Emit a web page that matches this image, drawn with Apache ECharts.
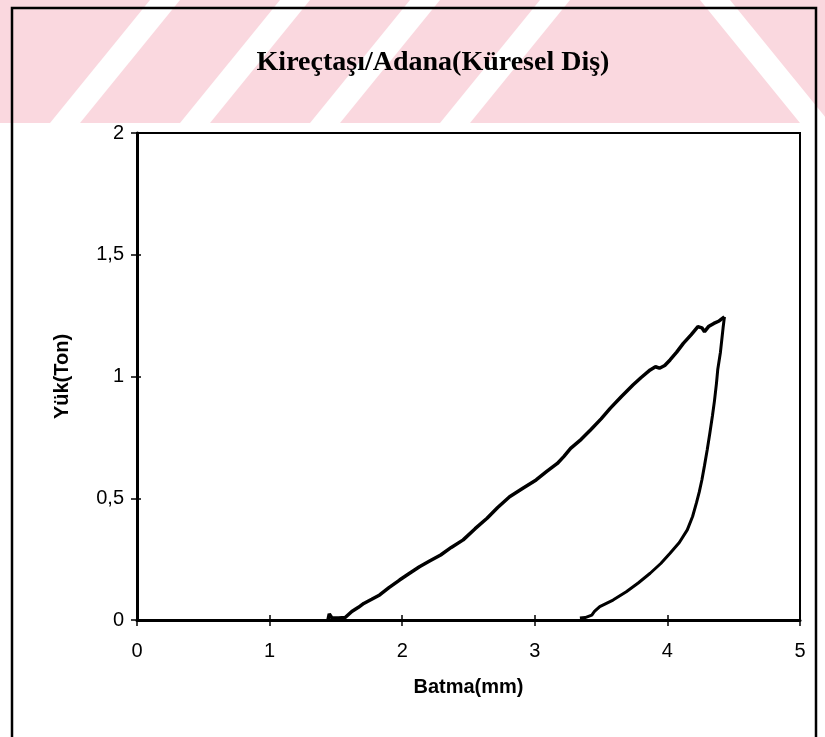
<!DOCTYPE html>
<html>
<head>
<meta charset="utf-8">
<script src="https://cdn.jsdelivr.net/npm/echarts@6/dist/echarts.min.js"></script>
<style>
html,body{margin:0;padding:0;background:#fff;}
#chart{width:825px;height:737px;}
</style>
</head>
<body>
<div id="chart"></div>
<script>
// ---- data ----
var titleText = 'Kireçtaşı/Adana(Küresel Diş)';
var xAxisName = 'Batma(mm)';
var yAxisName = 'Yük(Ton)';
var xTicks = [0, 1, 2, 3, 4, 5];
var yTicks = [0, 0.5, 1, 1.5, 2];

// loading branch (Batma mm, Yük ton)
var loadX = [1.44, 1.45, 1.47, 1.52, 1.57, 1.62, 1.67, 1.71, 1.77, 1.83, 1.90, 1.98, 2.05, 2.13, 2.21, 2.29, 2.37, 2.46, 2.55, 2.64, 2.72, 2.81, 2.91, 3.01, 3.09, 3.17, 3.22, 3.27, 3.35, 3.42, 3.50, 3.57, 3.65, 3.74, 3.80, 3.87, 3.91, 3.94, 3.98, 4.02, 4.07, 4.12, 4.18, 4.23, 4.26, 4.28, 4.31, 4.35, 4.39, 4.43];
var loadY = [0.00, 0.025, 0.008, 0.008, 0.010, 0.035, 0.052, 0.068, 0.085, 0.103, 0.133, 0.164, 0.190, 0.219, 0.243, 0.267, 0.298, 0.329, 0.375, 0.418, 0.462, 0.506, 0.541, 0.575, 0.610, 0.643, 0.672, 0.705, 0.742, 0.780, 0.826, 0.870, 0.916, 0.965, 0.995, 1.027, 1.040, 1.034, 1.045, 1.068, 1.100, 1.136, 1.172, 1.205, 1.200, 1.184, 1.205, 1.218, 1.228, 1.245];

// unloading branch
var unloadX = [4.43, 4.42, 4.41, 4.40, 4.38, 4.37, 4.355, 4.34, 4.32, 4.30, 4.28, 4.26, 4.24, 4.22, 4.19, 4.15, 4.09, 4.02, 3.95, 3.87, 3.78, 3.69, 3.59, 3.49, 3.45, 3.43, 3.38, 3.34];
var unloadY = [1.245, 1.200, 1.150, 1.100, 1.030, 0.972, 0.900, 0.840, 0.767, 0.698, 0.635, 0.575, 0.525, 0.483, 0.425, 0.370, 0.318, 0.274, 0.232, 0.192, 0.152, 0.116, 0.082, 0.055, 0.035, 0.020, 0.010, 0.008];

function pairs(xs, ys) { return xs.map(function (x, i) { return [x, ys[i]]; }); }

// ---- watermark (decorative) ----
var pink = '#fad8df';
var wm = [{ type: 'rect', z: -10, silent: true, shape: { x: 0, y: 0, width: 825, height: 123 }, style: { fill: pink } }];
var slashTops = [150, 280, 410, 540];
slashTops.forEach(function (t) {
  wm.push({ type: 'polygon', z: -9, silent: true,
    shape: { points: [[t, 0], [t + 30, 0], [t + 30 - 100, 123], [t - 100, 123]] },
    style: { fill: '#ffffff' } });
});
var backTops = [700, 830];
backTops.forEach(function (t) {
  wm.push({ type: 'polygon', z: -9, silent: true,
    shape: { points: [[t, 0], [t + 30, 0], [t + 30 + 100, 123], [t + 100, 123]] },
    style: { fill: '#ffffff' } });
});
// frame
wm.push({ type: 'rect', z: 5, silent: true, shape: { x: 12, y: 8, width: 804, height: 760 }, style: { fill: 'none', stroke: '#000', lineWidth: 2.5 } });
wm.push({ type: 'rect', z: -9, silent: true, shape: { x: 13, y: 123, width: 802, height: 620 }, style: { fill: '#fff' } });

var chart = echarts.init(document.getElementById('chart'));
var fontSans = '"Liberation Sans", Arial, sans-serif';

var option = {
  animation: false,
  backgroundColor: '#ffffff',
  graphic: wm,
  title: {
    text: titleText,
    left: 428, top: 44, textAlign: 'center',
    textStyle: { fontFamily: '"Liberation Serif", "Times New Roman", serif', fontWeight: 'bold', fontSize: 28, color: '#000' }
  },
  grid: { left: 137, top: 133, right: 25, bottom: 117, show: true, backgroundColor: '#fff', borderColor: '#000', borderWidth: 2 },
  xAxis: [{
    type: 'value', min: 0, max: 5, interval: 1,
    name: xAxisName, nameLocation: 'middle', nameGap: 57,
    nameTextStyle: { fontFamily: fontSans, fontWeight: 'bold', fontSize: 20, color: '#000' },
    axisLine: { show: true, lineStyle: { color: '#000', width: 3 } },
    axisTick: { show: true, length: 6, lineStyle: { color: '#000', width: 1.5 } },
    axisLabel: { margin: 21, fontFamily: fontSans, fontSize: 20, color: '#000',
      formatter: function (v) { return xTicks.indexOf(v) >= 0 ? String(v) : ''; } },
    splitLine: { show: false }
  }, {
    type: 'value', min: 0, max: 5, interval: 1, position: 'bottom',
    axisLine: { show: false }, axisLabel: { show: false }, splitLine: { show: false },
    axisTick: { show: true, inside: true, length: 5, lineStyle: { color: '#000', width: 1.5 } }
  }],
  yAxis: [{
    type: 'value', min: 0, max: 2, interval: 0.5,
    name: yAxisName, nameLocation: 'middle', nameGap: 65,
    nameTextStyle: { fontFamily: fontSans, fontWeight: 'bold', fontSize: 20, color: '#000' },
    axisLine: { show: true, lineStyle: { color: '#000', width: 3 } },
    axisTick: { show: true, length: 6, lineStyle: { color: '#000', width: 1.5 } },
    axisLabel: { margin: 13, fontFamily: fontSans, fontSize: 20, color: '#000',
      formatter: function (v) { return yTicks.indexOf(v) >= 0 ? String(v).replace('.', ',') : ''; } },
    splitLine: { show: false }
  }, {
    type: 'value', min: 0, max: 2, interval: 0.5, position: 'left',
    axisLine: { show: false }, axisLabel: { show: false }, splitLine: { show: false },
    axisTick: { show: true, inside: true, length: 4, lineStyle: { color: '#000', width: 1.5 } }
  }],
  series: [{
    type: 'line', name: 'Yükleme', xAxisIndex: 0, yAxisIndex: 0,
    data: pairs(loadX, loadY), showSymbol: false, smooth: false,
    lineStyle: { color: '#000', width: 3.5 }, z: 3
  }, {
    type: 'line', name: 'Boşaltma', xAxisIndex: 0, yAxisIndex: 0,
    data: pairs(unloadX, unloadY), showSymbol: false, smooth: false,
    lineStyle: { color: '#000', width: 3 }, z: 3
  }]
};
chart.setOption(option);
</script>
</body>
</html>
